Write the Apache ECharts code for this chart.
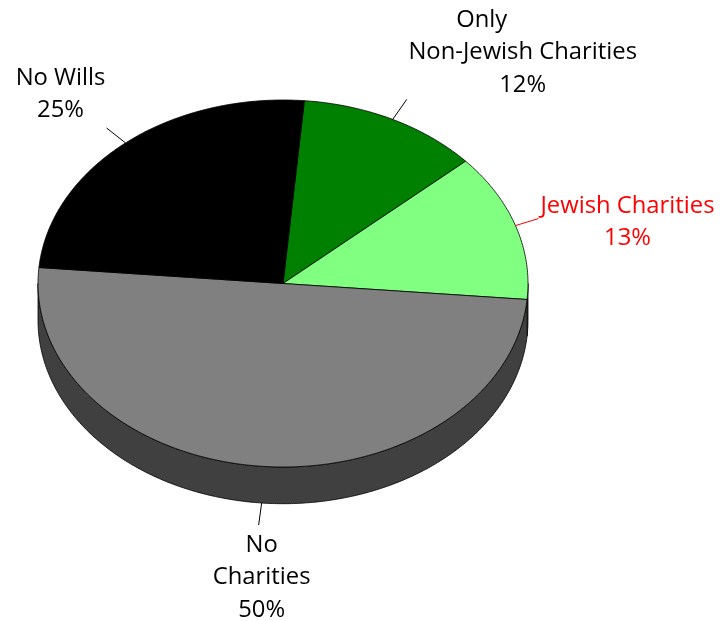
<!DOCTYPE html>
<html><head><meta charset="utf-8">
<script src="https://cdn.jsdelivr.net/npm/echarts@6/dist/echarts.min.js"></script>
<style>html,body{margin:0;padding:0;background:#fff}#c{width:723px;height:621px}</style>
</head><body><div id="c"></div>
<script>
// ---- data ----
const categories = ['Only\nNon-Jewish Charities', 'Jewish Charities', 'No\nCharities', 'No Wills'];
const values = [12, 13, 50, 25];
// ---- styling ----
const sliceColors = ['#008000', '#80FF80', '#808080', '#000000'];
const sideColors = ['#004000', '#408040', '#404040', '#000000'];
const labelColors = ['#000000', '#FF0000', '#000000', '#000000'];
const leaderEnd = [[14, -20], [23, -7], [-3, 22], [-19, -15]];
const labelOffset = [[130, -67], [112, -3.5], [0, 74.5], [-65, -48.5]];
const firstLineShift = [-41, 0, 0, 0];
const LINE_H = 32.5;
const START = 85, DEPTH = 0.2;

const total = values.reduce((s, v) => s + v, 0);
const angles = [];
let acc = START;
values.forEach(v => { const b = acc - 360 * v / total; angles.push([acc, b]); acc = b; });
const rad = d => d * Math.PI / 180;
const pt = (api, deg, dy) => api.coord([Math.cos(rad(deg)), Math.sin(rad(deg)) - (dy || 0)]);
function arcPts(api, from, to, dy) {
  const pts = [];
  const n = Math.max(2, Math.ceil(Math.abs(from - to) * 2));
  for (let k = 0; k <= n; k++) { const d = from + (to - from) * k / n; pts.push(pt(api, d, dy)); }
  return pts;
}
function renderSide(params, api) {
  const i = params.dataIndex;
  const a0 = angles[i][0], a1 = angles[i][1];
  const children = [];
  for (const k of [-360, 0, 360]) {
    const lo = Math.max(a1, -180 + k), hi = Math.min(a0, 0 + k);
    if (hi > lo) {
      const top = arcPts(api, hi, lo, 0), bot = arcPts(api, lo, hi, DEPTH);
      children.push({ type: 'polygon', shape: { points: top.concat(bot) },
        style: { fill: sideColors[i], stroke: '#000', lineWidth: 0.8 } });
    }
  }
  return { type: 'group', children };
}
function renderTop(params, api) {
  const i = params.dataIndex;
  const a0 = angles[i][0], a1 = angles[i][1];
  const c = api.coord([0, 0]);
  const pts = [c].concat(arcPts(api, a0, a1, 0));
  const children = [{ type: 'polygon', shape: { points: pts },
    style: { fill: sliceColors[i], stroke: '#000', lineWidth: 0.8 } }];
  const mid = (a0 + a1) / 2;
  const front = Math.sin(rad(mid)) < 0;
  const s = pt(api, mid, front ? DEPTH : 0);
  const e = [s[0] + leaderEnd[i][0], s[1] + leaderEnd[i][1]];
  children.push({ type: 'line', shape: { x1: s[0], y1: s[1], x2: e[0], y2: e[1] },
    style: { stroke: labelColors[i], lineWidth: 1 } });
  const lines = categories[i].split('\n').concat([values[i] + '%']);
  const cx = s[0] + labelOffset[i][0], cy = s[1] + labelOffset[i][1];
  lines.forEach((t, j) => {
    children.push({ type: 'text', x: cx + (j === 0 ? firstLineShift[i] : 0),
      y: cy + (j - (lines.length - 1) / 2) * LINE_H,
      style: { text: t, align: 'center', verticalAlign: 'middle', fontSize: 23.8,
        fontFamily: 'Open Sans', fill: labelColors[i] } });
  });
  return { type: 'group', children };
}
const chart = echarts.init(document.getElementById('c'), null, { renderer: 'canvas' });
chart.setOption({
  animation: false,
  grid: { left: 38, top: 100, width: 490, height: 403.7 },
  xAxis: { type: 'value', min: -1, max: 1, show: false },
  yAxis: { type: 'value', min: -1.2, max: 1, show: false },
  series: [
    { type: 'custom', name: 'side', clip: false, z: 1, renderItem: renderSide,
      data: values.map((v, i) => [0, 0, v, i]) },
    { type: 'custom', name: 'top', clip: false, z: 2, renderItem: renderTop,
      data: values.map((v, i) => [0, 0, v, i]) }
  ]
});
</script></body></html>
